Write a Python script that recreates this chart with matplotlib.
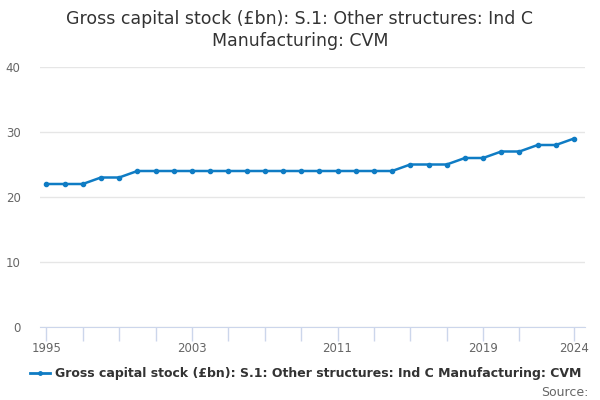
import matplotlib.pyplot as plt
from matplotlib.lines import Line2D

years = list(range(1995, 2025))
values = [22, 22, 22, 23, 23, 24, 24, 24, 24, 24,
          24, 24, 24, 24, 24, 24, 24, 24, 24, 24,
          25, 25, 25, 26, 26, 27, 27, 28, 28, 29]
tick_years = list(range(1995, 2022, 2)) + [2024]
label_years = [1995, 2003, 2011, 2019, 2024]
series_name = 'Gross capital stock (£bn): S.1: Other structures: Ind C Manufacturing: CVM'

blue = '#0f7cc4'

fig = plt.figure(figsize=(6, 4), dpi=100)
ax = fig.add_axes([40 / 600, 73 / 400, 545 / 600, 260 / 400])

ax.plot(years, values, color=blue, linewidth=1.8, marker='o', markersize=3)

ax.set_xlim(1994.65, 2024.6)
ax.set_ylim(0, 40)
ax.set_yticks([0, 10, 20, 30, 40])
ax.set_xticks(tick_years)
ax.set_xticklabels([str(y) if y in label_years else '' for y in tick_years])
ax.grid(axis='y', color='#e6e6e6', linewidth=1)
ax.set_axisbelow(True)
for s in ['top', 'right', 'left']:
    ax.spines[s].set_visible(False)
ax.spines['bottom'].set_color('#ccd6eb')
ax.tick_params(axis='x', colors='#ccd6eb', length=10, width=1, labelcolor='#666666', labelsize=8.5, pad=1)
ax.tick_params(axis='y', length=0, labelcolor='#666666', labelsize=8.5, pad=14)

fig.text(0.5, 0.975, 'Gross capital stock (£bn): S.1: Other structures: Ind C\nManufacturing: CVM',
         ha='center', va='top', fontsize=12.5, color='#333333', linespacing=1.25)

handle = Line2D([], [], color=blue, linewidth=2, marker='o', markersize=2.5)
fig.legend([handle], [series_name], loc='center', bbox_to_anchor=(0.51, 1 - 374 / 400),
           frameon=False, prop={'weight': 'bold', 'size': 9}, handlelength=1.6,
           handletextpad=0.4, labelcolor='#333333')
fig.text(588 / 600, 1 - 392 / 400, 'Source:', ha='right', va='center', fontsize=9, color='#666666')

fig.savefig('out.png', dpi=100)
